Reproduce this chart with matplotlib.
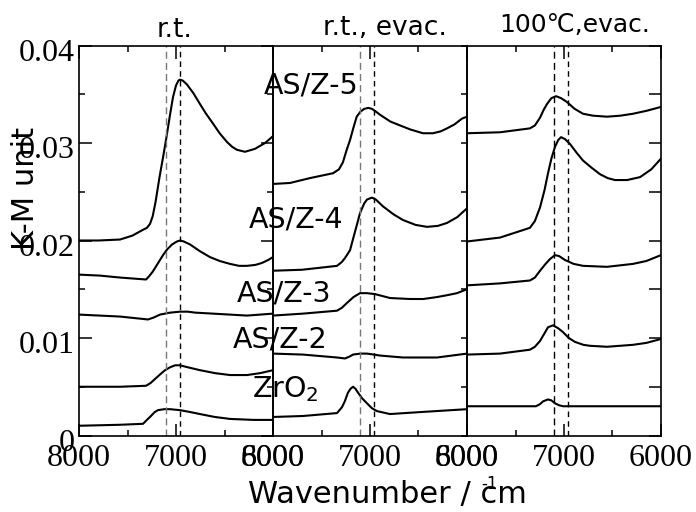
import matplotlib
matplotlib.use("Agg")
import matplotlib.pyplot as plt
import matplotlib.transforms as mtransforms
from matplotlib.ticker import FixedLocator

# ---------------- data (wavenumber / cm-1, K-M unit) ----------------
# Panel 1: r.t.
rt_as5_wn = [8000, 7800, 7577, 7450, 7340, 7300, 7268, 7240, 7210, 7170, 7134, 7100, 7060, 7031, 7000, 6975, 6959, 6930, 6887, 6820, 6753, 6690, 6619, 6550, 6474, 6420, 6371, 6289, 6186, 6082, 6000]
rt_as5_km = [0.0200, 0.0200, 0.0201, 0.0205, 0.0211, 0.0213, 0.0217, 0.0225, 0.0240, 0.0265, 0.0285, 0.0305, 0.0330, 0.0347, 0.0359, 0.0364, 0.0365, 0.0364, 0.0360, 0.0351, 0.0340, 0.0330, 0.0320, 0.0310, 0.0301, 0.0296, 0.0293, 0.0291, 0.0294, 0.0300, 0.0307]
rt_as4_wn = [8000, 7784, 7577, 7309, 7280, 7240, 7190, 7134, 7090, 7040, 6990, 6959, 6920, 6856, 6753, 6650, 6550, 6443, 6350, 6268, 6180, 6113, 6050, 6000]
rt_as4_km = [0.0165, 0.0164, 0.0162, 0.0160, 0.0163, 0.0168, 0.0176, 0.0185, 0.0191, 0.0196, 0.0199, 0.0200, 0.0199, 0.0196, 0.0189, 0.0183, 0.0179, 0.0176, 0.0174, 0.0174, 0.0175, 0.0177, 0.0180, 0.0183]
rt_as3_wn = [8000, 7577, 7289, 7230, 7165, 7062, 6959, 6880, 6800, 6619, 6268, 6000]
rt_as3_km = [0.0124, 0.0122, 0.0119, 0.0121, 0.0124, 0.0126, 0.0127, 0.0127, 0.0126, 0.0125, 0.0123, 0.0125]
rt_as2_wn = [8000, 7577, 7309, 7260, 7216, 7160, 7113, 7060, 7010, 6959, 6880, 6753, 6600, 6443, 6268, 6130, 6000]
rt_as2_km = [0.0050, 0.0050, 0.0051, 0.0054, 0.0058, 0.0063, 0.0067, 0.0070, 0.0072, 0.0072, 0.0070, 0.0067, 0.0064, 0.0062, 0.0062, 0.0064, 0.0067]
rt_zr_wn = [8000, 7577, 7340, 7300, 7268, 7220, 7186, 7120, 7062, 6959, 6850, 6753, 6600, 6443, 6200, 6000]
rt_zr_km = [0.0010, 0.0011, 0.0012, 0.0016, 0.0019, 0.0024, 0.0026, 0.0027, 0.0027, 0.0026, 0.0024, 0.0022, 0.0019, 0.0017, 0.0016, 0.0016]

# Panel 2: r.t., evac.
ev_as5_wn = [8000, 7825, 7619, 7381, 7320, 7280, 7240, 7206, 7170, 7137, 7100, 7060, 7017, 6980, 6950, 6897, 6790, 6690, 6588, 6454, 6350, 6270, 6206, 6130, 6052, 6000]
ev_as5_km = [0.0258, 0.0259, 0.0264, 0.0269, 0.0273, 0.0280, 0.0293, 0.0303, 0.0316, 0.0327, 0.0332, 0.0335, 0.0336, 0.0335, 0.0333, 0.0329, 0.0322, 0.0318, 0.0314, 0.0310, 0.0310, 0.0312, 0.0315, 0.0319, 0.0325, 0.0327]
ev_as4_wn = [8000, 7700, 7340, 7290, 7258, 7206, 7160, 7103, 7060, 7031, 6980, 6940, 6866, 6760, 6660, 6530, 6412, 6300, 6206, 6100, 6000]
ev_as4_km = [0.0169, 0.0170, 0.0174, 0.0178, 0.0182, 0.0190, 0.0207, 0.0228, 0.0238, 0.0242, 0.0244, 0.0242, 0.0235, 0.0227, 0.0221, 0.0216, 0.0214, 0.0215, 0.0218, 0.0224, 0.0233]
ev_as3_wn = [8000, 7691, 7340, 7290, 7237, 7170, 7103, 7031, 6948, 6870, 6794, 6588, 6450, 6309, 6200, 6103, 6000]
ev_as3_km = [0.0123, 0.0125, 0.0128, 0.0131, 0.0136, 0.0142, 0.0146, 0.0146, 0.0145, 0.0143, 0.0141, 0.0140, 0.0140, 0.0142, 0.0144, 0.0146, 0.0150]
ev_as2_wn = [8000, 7691, 7340, 7258, 7210, 7175, 7100, 7031, 6960, 6897, 6660, 6309, 6000]
ev_as2_km = [0.0084, 0.0083, 0.0080, 0.0079, 0.0081, 0.0083, 0.0084, 0.0084, 0.0083, 0.0082, 0.0080, 0.0080, 0.0084]
ev_zr_wn = [8000, 7691, 7340, 7289, 7260, 7227, 7200, 7175, 7150, 7124, 7080, 7031, 6980, 6928, 6794, 6485, 6000]
ev_zr_km = [0.0019, 0.0020, 0.0023, 0.0029, 0.0035, 0.0044, 0.0048, 0.0050, 0.0048, 0.0044, 0.0038, 0.0033, 0.0028, 0.0025, 0.0022, 0.0024, 0.0027]

# Panel 3: 100C, evac.
ht_as5_wn = [8000, 7660, 7351, 7300, 7247, 7210, 7175, 7130, 7082, 7030, 6969, 6890, 6804, 6700, 6557, 6420, 6289, 6150, 6000]
ht_as5_km = [0.0310, 0.0311, 0.0315, 0.0318, 0.0326, 0.0334, 0.0340, 0.0346, 0.0348, 0.0346, 0.0342, 0.0335, 0.0330, 0.0328, 0.0327, 0.0328, 0.0330, 0.0333, 0.0337]
ht_as4_wn = [8000, 7660, 7351, 7300, 7247, 7200, 7165, 7130, 7093, 7060, 7031, 6990, 6938, 6870, 6804, 6720, 6629, 6550, 6474, 6350, 6216, 6100, 6000]
ht_as4_km = [0.0199, 0.0203, 0.0213, 0.0220, 0.0234, 0.0252, 0.0269, 0.0284, 0.0296, 0.0303, 0.0306, 0.0304, 0.0299, 0.0290, 0.0282, 0.0275, 0.0268, 0.0264, 0.0262, 0.0262, 0.0265, 0.0273, 0.0284]
ht_as3_wn = [8000, 7660, 7351, 7300, 7247, 7190, 7144, 7093, 7050, 6990, 6900, 6804, 6557, 6289, 6150, 6000]
ht_as3_km = [0.0154, 0.0156, 0.0159, 0.0162, 0.0169, 0.0176, 0.0181, 0.0185, 0.0184, 0.0180, 0.0176, 0.0174, 0.0173, 0.0176, 0.0179, 0.0185]
ht_as2_wn = [8000, 7660, 7351, 7300, 7247, 7200, 7165, 7113, 7060, 7010, 6950, 6887, 6800, 6732, 6557, 6289, 6150, 6000]
ht_as2_km = [0.0083, 0.0084, 0.0088, 0.0091, 0.0097, 0.0105, 0.0111, 0.0113, 0.0110, 0.0106, 0.0100, 0.0096, 0.0093, 0.0092, 0.0091, 0.0093, 0.0095, 0.0099]
ht_zr_wn = [8000, 7290, 7250, 7216, 7165, 7130, 7093, 7050, 7010, 6000]
ht_zr_km = [0.0030, 0.0030, 0.0032, 0.0035, 0.0037, 0.0036, 0.0033, 0.0031, 0.0030, 0.0030]

panel_titles = ["r.t.", "r.t., evac.", "100℃,evac."]
sample_labels = ["AS/Z-5", "AS/Z-4", "AS/Z-3", "AS/Z-2", "ZrO$_2$"]
x_tick_values = [8000, 7000, 6000]
x_tick_labels = ["8000", "7000", "6000"]
y_tick_values = [0, 0.01, 0.02, 0.03, 0.04]
y_tick_labels = ["0", "0.01", "0.02", "0.03", "0.04"]
dash_positions = [7100, 6960]

panels = [
    [(rt_as5_wn, rt_as5_km), (rt_as4_wn, rt_as4_km), (rt_as3_wn, rt_as3_km), (rt_as2_wn, rt_as2_km), (rt_zr_wn, rt_zr_km)],
    [(ev_as5_wn, ev_as5_km), (ev_as4_wn, ev_as4_km), (ev_as3_wn, ev_as3_km), (ev_as2_wn, ev_as2_km), (ev_zr_wn, ev_zr_km)],
    [(ht_as5_wn, ht_as5_km), (ht_as4_wn, ht_as4_km), (ht_as3_wn, ht_as3_km), (ht_as2_wn, ht_as2_km), (ht_zr_wn, ht_zr_km)],
]

# ---------------- figure ----------------
W, H = 696, 512
fig = plt.figure(figsize=(W / 100, H / 100), dpi=100)

def fx(px):
    return px / W

def fy(py):
    return 1 - py / H

ax_left = [79, 273, 467]
ax_w = 194
ax_top, ax_bot = 45.5, 435.5
serif = "Liberation Serif"
sans = "DejaVu Sans"

axes = []
for i, left in enumerate(ax_left):
    ax = fig.add_axes([fx(left), fy(ax_bot), ax_w / W, (ax_bot - ax_top) / H])
    axes.append(ax)
    ax.set_xlim(8000, 6000)
    ax.set_ylim(0, 0.04)
    ax.patch.set_alpha(0)
    for s in ax.spines.values():
        s.set_linewidth(1.2)
    for wn, km in panels[i]:
        ax.plot(wn, km, color="black", lw=1.5, solid_joinstyle="round", solid_capstyle="round")
    c1 = "#777777" if i < 2 else "black"
    ax.axvline(dash_positions[0], color=c1, lw=1.0, ls=(0, (5, 3)))
    ax.axvline(dash_positions[1], color="black", lw=1.0, ls=(0, (4, 3)))

    ax.xaxis.set_major_locator(FixedLocator(x_tick_values))
    ax.xaxis.set_minor_locator(FixedLocator([7500, 6500]))
    ax.set_xticklabels(x_tick_labels, fontfamily=serif, fontsize=23)
    ax.tick_params(axis="x", which="major", direction="in", top=True, bottom=True,
                   length=9, width=1.1, pad=6)
    ax.tick_params(axis="x", which="minor", direction="in", top=True, bottom=True,
                   length=4.5, width=1.1)

    ax.yaxis.set_major_locator(FixedLocator(y_tick_values))
    ax.yaxis.set_minor_locator(FixedLocator([0.005, 0.015, 0.025, 0.035]))
    if i == 0:
        ax.set_yticklabels(y_tick_labels, fontfamily=serif, fontsize=23)
        ax.tick_params(axis="y", which="major", direction="in", left=True, right=True,
                       length=9, width=1.1, pad=3)
        ax.tick_params(axis="y", which="minor", direction="in", left=True, right=True,
                       length=4.5, width=1.1)
    else:
        ax.set_yticklabels([])
        ln = 9 if i == 2 else 4.5
        ax.tick_params(axis="y", which="both", direction="in", left=False, right=True,
                       length=ln, width=1.1)

# y tick labels sit slightly below their ticks in the reference
for lab in axes[0].get_yticklabels():
    lab.set_transform(lab.get_transform() + mtransforms.ScaledTranslation(0, -3 / 72, fig.dpi_scale_trans))

# titles
title_pos = [(175, 30), (385, 28), (575, 25)]
title_size = [19, 19, 18]
for t, (x, y), fs in zip(panel_titles, title_pos, title_size):
    fig.text(fx(x), fy(y), t, ha="center", va="center", fontfamily=sans, fontsize=fs)

# sample labels
label_pos = [(311, 85), (296, 220), (284, 293), (280, 340), (285, 389)]
for t, (x, y) in zip(sample_labels, label_pos):
    fig.text(fx(x), fy(y), t, ha="center", va="center", fontfamily=sans, fontsize=20.5)

# axis labels
fig.text(fx(25), fy(188), "K-M unit", rotation=90, ha="center", va="center",
         fontfamily=sans, fontsize=22)
fig.text(fx(387), fy(494), "Wavenumber / cm", ha="center", va="center",
         fontfamily=sans, fontsize=22)
fig.text(fx(490), fy(484), "-1", ha="center", va="center", fontfamily=sans, fontsize=12)

fig.savefig("out.png", dpi=100)
